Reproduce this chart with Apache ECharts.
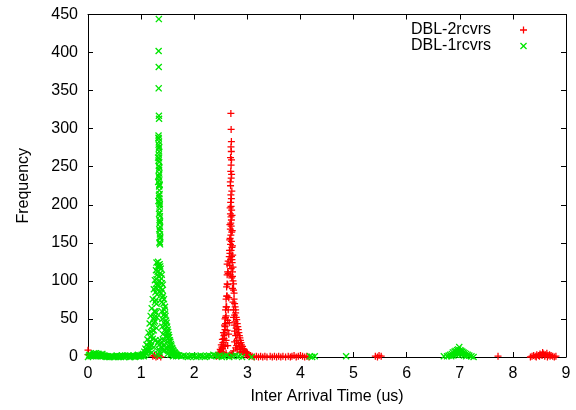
<!DOCTYPE html>
<html>
<head>
<meta charset="utf-8">
<script src="https://cdn.jsdelivr.net/npm/echarts@6/dist/echarts.min.js"></script>
<style>
html,body{margin:0;padding:0;background:#fff;}
#chart{width:576px;height:410px;}
</style>
</head>
<body>
<div id="chart"></div>
<script>
// ---- Data ----
var seriesNames = ['DBL-2rcvrs', 'DBL-1rcvrs'];
var xTicks = [0, 1, 2, 3, 4, 5, 6, 7, 8, 9];
var yTicks = [0, 50, 100, 150, 200, 250, 300, 350, 400, 450];

// DBL-2rcvrs : [inter arrival time (us), frequency]
var dbl2rcvrs = [
  [0.00,9],[0.00,3],[1.22,1],[1.25,2],[1.28,0],[1.31,1],[1.34,2],[1.37,0],
  [2.42,1],[2.45,3],[2.47,6],[2.49,10],[2.51,16],[2.53,23],[2.55,32],[2.57,42],[2.58,50],[2.59,62],[2.60,76],[2.61,92],[2.62,108],[2.62,122],
  [2.47,2],[2.49,4],[2.51,7],[2.53,11],[2.55,16],[2.56,24],[2.57,30],[2.58,36],[2.59,44],[2.60,54],[2.61,66],[2.62,80],[2.63,95],[2.64,110],
  [2.55,6],[2.58,14],[2.60,22],[2.62,35],[2.63,48],[2.64,62],[2.65,78],[2.60,5],[2.63,15],[2.65,30],[2.66,45],[2.67,3],[2.69,2],[2.72,4],
  [2.44,2],[2.48,5],[2.50,9],[2.52,13],[2.54,19],[2.56,28],[2.58,40],[2.59,52],[2.60,66],[2.61,80],[2.62,96],[2.63,112],[2.64,126],
  [2.690,320],[2.695,299],[2.700,283],[2.692,276],[2.698,270],[2.702,259],[2.694,252],[2.688,244],[2.696,235],[2.684,225],[2.690,213],
  [2.700,208],[2.686,203],[2.694,198],[2.704,193],[2.682,188],[2.692,184],[2.700,180],[2.688,176],[2.696,172],[2.680,168],[2.706,164],
  [2.690,160],[2.676,156],[2.700,152],[2.684,148],[2.710,144],[2.694,140],[2.672,136],[2.702,132],[2.686,128],[2.714,124],[2.668,120],
  [2.696,116],[2.720,112],[2.680,108],[2.706,104],
  [2.684,262],[2.704,240],[2.680,230],[2.708,218],[2.676,196],[2.712,186],[2.672,174],[2.716,166],[2.668,154],[2.720,146],[2.664,140],
  [2.724,134],[2.66,132],[2.71,128],
  [2.73,100],[2.74,88],[2.75,76],[2.77,66],[2.78,58],[2.80,49],[2.82,40],[2.84,32],[2.86,25],[2.88,19],[2.91,14],[2.94,10],[2.97,7],[3.00,5],[3.03,3],[3.06,2],
  [2.72,90],[2.73,72],[2.74,62],[2.74,52],[2.75,42],[2.76,55],[2.76,34],[2.77,46],[2.78,28],[2.79,38],[2.80,22],[2.81,30],[2.83,18],[2.85,14],
  [2.87,10],[2.90,7],[2.93,5],[2.96,3],[3.00,2],[2.76,20],[2.78,12],[2.74,8],[2.71,3],[2.70,2],
  [2.73,118],[2.72,106],[2.74,96],[2.75,84],[2.76,70],[2.78,62],[2.79,52],[2.81,44],[2.83,36],[2.85,28],[2.87,22],[2.89,16],[2.92,11],
  [2.95,8],[2.98,5],[3.01,3],[3.04,1],[2.82,10],[2.86,6],[2.80,15],
  [3.09,1],[3.13,0],[3.17,1],[3.21,0],[3.25,1],[3.29,0],[3.33,1],[3.37,0],[3.43,1],[3.47,0],[3.51,1],[3.55,0],[3.59,1],[3.63,0],[3.67,1],
  [3.72,0],[3.77,1],[3.81,0],[3.84,1],[3.88,2],[3.92,0],[3.96,1],[4.00,2],[4.04,1],[4.08,0],[4.12,1],[4.16,0],
  [5.41,1],[5.45,0],[5.48,2],[5.52,1],[7.72,1],
  [8.33,0],[8.36,1],[8.39,2],[8.42,1],[8.45,3],[8.48,2],[8.51,4],[8.53,3],[8.56,6],[8.58,4],[8.61,3],[8.64,5],[8.66,2],[8.69,3],[8.72,2],
  [8.75,1],[8.78,0],[8.81,1],[8.44,0],[8.50,1],[8.55,2],[8.60,1],[8.65,0],[8.70,1]
];

// DBL-1rcvrs : [inter arrival time (us), frequency]
var dbl1rcvrs = [
  [0.02,2],[0.05,1],[0.09,3],[0.11,4],[0.13,2],[0.15,5],[0.17,3],[0.19,4],[0.21,2],[0.23,3],[0.25,1],[0.27,4],[0.29,2],[0.32,1],[0.35,0],
  [0.38,1],[0.42,0],[0.46,1],[0.50,0],[0.54,2],[0.58,1],[0.62,0],[0.66,1],[0.70,2],[0.74,1],[0.78,0],[0.82,1],[0.86,2],[0.89,1],[0.92,2],
  [0.95,1],[0.98,2],[1.01,3],
  [0.00,0],[0.03,3],[0.07,2],[0.10,1],[0.12,5],[0.14,3],[0.16,1],[0.18,2],[0.20,4],[0.22,1],[0.24,3],[0.26,2],[0.28,1],[0.31,2],[0.34,1],
  [0.40,0],[0.44,1],[0.48,0],[0.52,1],[0.56,0],[0.60,1],[0.64,2],[0.68,0],[0.72,1],[0.76,2],[0.80,0],[0.84,1],[0.88,0],[0.91,1],[0.94,3],
  [0.97,1],[1.00,1],[1.03,2],[1.05,1],
  [1.04,4],[1.06,7],[1.08,11],[1.10,16],[1.12,23],[1.14,32],[1.16,44],[1.18,54],[1.20,64],[1.22,76],[1.24,89],[1.26,101],[1.28,114],[1.29,124],
  [1.07,3],[1.09,6],[1.11,9],[1.13,14],[1.15,19],[1.17,26],[1.19,33],[1.21,41],[1.23,50],[1.25,60],[1.26,72],[1.27,85],[1.28,96],[1.30,108],
  [1.15,8],[1.19,15],[1.22,24],[1.24,35],[1.26,47],[1.28,58],[1.29,70],[1.30,82],[1.31,95],[1.20,6],[1.24,13],[1.27,22],[1.29,38],[1.30,52],
  [1.10,4],[1.12,7],[1.14,10],[1.16,14],[1.18,20],[1.20,28],[1.22,35],[1.24,45],[1.25,52],[1.27,60],[1.28,75],[1.30,90],[1.29,102],[1.31,118],
  [1.334,444],[1.330,402],[1.332,381],[1.331,353],[1.335,317],[1.338,313],[1.328,291],[1.333,287],[1.337,283],[1.330,279],[1.335,274],
  [1.339,270],[1.332,266],[1.336,261],[1.340,256],[1.334,251],[1.338,246],[1.342,241],[1.336,236],[1.341,232],[1.345,227],[1.339,224],
  [1.343,219],[1.347,214],[1.341,209],[1.346,204],[1.350,199],[1.344,195],[1.349,190],[1.353,185],[1.347,180],[1.352,176],[1.356,171],
  [1.350,166],[1.355,161],[1.358,156],[1.352,151],[1.357,148],[1.320,262],[1.322,230],[1.326,205],
  [1.326,288],[1.340,276],[1.328,258],[1.344,249],[1.330,238],[1.348,226],[1.334,212],[1.352,201],[1.338,188],[1.356,178],[1.342,168],
  [1.360,158],[1.346,150],
  [1.32,125],[1.35,122],[1.34,118],[1.37,116],[1.31,112],[1.36,110],[1.33,106],[1.38,103],[1.35,100],[1.39,97],[1.32,94],[1.37,91],
  [1.40,88],[1.34,86],[1.38,84],[1.41,80],[1.33,121],[1.36,119],[1.39,108],[1.41,95],
  [1.40,78],[1.42,70],[1.44,62],[1.45,57],[1.47,48],[1.49,40],[1.51,33],[1.53,26],[1.55,20],[1.57,15],[1.59,11],[1.61,8],[1.63,6],[1.65,4],[1.67,3],[1.70,2],
  [1.39,72],[1.39,60],[1.40,50],[1.40,40],[1.41,30],[1.42,55],[1.42,22],[1.43,45],[1.44,35],[1.44,16],[1.46,42],[1.46,27],[1.47,12],[1.48,33],
  [1.49,20],[1.50,9],[1.51,25],[1.52,14],[1.54,11],[1.55,7],[1.57,5],[1.59,4],[1.62,2],[1.66,1],
  [1.43,76],[1.45,66],[1.46,54],[1.48,45],[1.50,36],[1.52,29],[1.54,22],[1.56,17],[1.58,12],[1.60,9],[1.62,6],[1.64,5],[1.66,3],[1.68,2],
  [1.45,9],[1.50,4],[1.55,3],[1.60,1],[1.40,12],[1.42,8],
  [1.32,20],[1.34,16],[1.36,22],[1.38,18],[1.33,10],[1.35,6],[1.37,13],[1.31,4],[1.34,2],
  [1.72,2],[1.76,1],[1.80,2],[1.84,1],[1.88,0],[1.92,1],[1.96,2],[2.00,1],[2.04,0],[2.08,1],[2.12,2],[2.16,1],[2.20,0],[2.24,1],[2.28,2],
  [2.32,1],[2.36,3],[2.40,2],[2.44,1],[2.48,2],[2.52,0],[2.56,1],[2.61,2],[2.66,0],[2.72,1],[2.78,2],[2.84,1],[2.90,0],[3.08,0],
  [4.18,1],[4.22,0],[4.27,1],[4.86,1],[6.70,1],
  [6.76,1],[6.79,2],[6.82,3],[6.85,4],[6.87,6],[6.90,7],[6.92,8],[6.95,9],[6.97,10],[6.99,13],[7.01,9],[7.03,8],[7.05,7],[7.07,6],[7.09,5],
  [7.12,4],[7.15,3],[7.18,2],[7.22,1],[7.26,0],[6.84,1],[6.88,2],[6.92,3],[6.96,4],[7.00,5],[7.04,3],[7.08,2],[7.12,1],[6.94,6],[7.02,6],[6.98,7]
];

// ---- Chart ----
var PLUS = 'path://M4.1,0 H5.9 V4.1 H10 V5.9 H5.9 V10 H4.1 V5.9 H0 V4.1 H4.1 Z';
var CROSS = 'path://M0,1.3 L1.3,0 L5,3.7 L8.7,0 L10,1.3 L6.3,5 L10,8.7 L8.7,10 L5,6.3 L1.3,10 L0,8.7 L3.7,5 Z';
var FONT = 'Liberation Sans, Arial, sans-serif';

var chart = echarts.init(document.getElementById('chart'), null, {renderer: 'canvas'});
var axisLine = {show: true, onZero: false, lineStyle: {color: '#000', width: 1}};
var tick = {show: true, inside: true, length: 5, lineStyle: {color: '#000', width: 1}};

chart.setOption({
  animation: false,
  backgroundColor: '#fff',
  textStyle: {fontFamily: FONT},
  grid: {left: 88, right: 10, top: 14.5, bottom: 53, containLabel: false},
  legend: {
    orient: 'vertical', right: 44, top: 17, align: 'right', itemGap: 0,
    itemWidth: 7, itemHeight: 7,
    data: seriesNames,
    textStyle: {fontFamily: FONT, fontSize: 16, color: '#000', padding: [0, 24, 0, 0], lineHeight: 16}
  },
  xAxis: [{
    type: 'value', min: xTicks[0], max: xTicks[xTicks.length - 1], interval: 1,
    name: 'Inter Arrival Time (us)', nameLocation: 'middle', nameGap: 32,
    nameTextStyle: {fontFamily: FONT, fontSize: 16, color: '#000'},
    axisLine: axisLine, axisTick: tick, splitLine: {show: false},
    axisLabel: {fontFamily: FONT, fontSize: 16, color: '#000', margin: 9}
  }, {
    type: 'value', position: 'top', min: xTicks[0], max: xTicks[xTicks.length - 1], interval: 1,
    axisLine: axisLine, axisTick: tick, splitLine: {show: false}, axisLabel: {show: false}
  }],
  yAxis: [{
    type: 'value', min: yTicks[0], max: yTicks[yTicks.length - 1], interval: 50,
    name: 'Frequency', nameLocation: 'middle', nameGap: 56, nameRotate: 90,
    nameTextStyle: {fontFamily: FONT, fontSize: 16, color: '#000'},
    axisLine: axisLine, axisTick: tick, splitLine: {show: false},
    axisLabel: {fontFamily: FONT, fontSize: 16, color: '#000', margin: 10}
  }, {
    type: 'value', position: 'right', min: yTicks[0], max: yTicks[yTicks.length - 1], interval: 50,
    axisLine: axisLine, axisTick: tick, splitLine: {show: false}, axisLabel: {show: false}
  }],
  series: [{
    name: seriesNames[0], type: 'scatter', xAxisIndex: 0, yAxisIndex: 0,
    symbol: PLUS, symbolSize: 7, data: dbl2rcvrs,
    itemStyle: {color: '#ff0000', opacity: 1}
  }, {
    name: seriesNames[1], type: 'scatter', xAxisIndex: 0, yAxisIndex: 0,
    symbol: CROSS, symbolSize: 7, data: dbl1rcvrs,
    itemStyle: {color: '#00e600', opacity: 1}
  }]
});
</script>
</body>
</html>
